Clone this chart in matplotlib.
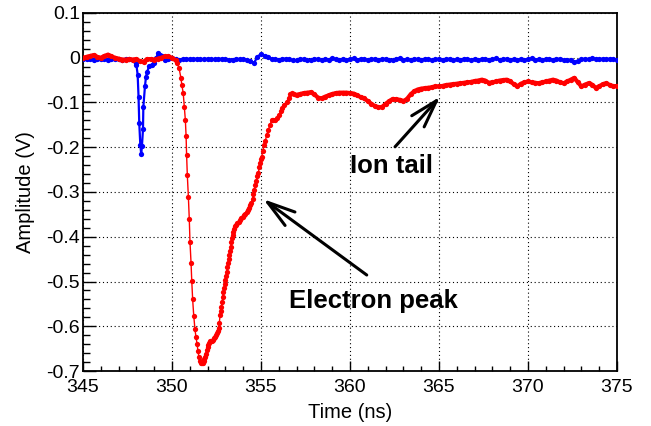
import matplotlib
matplotlib.use("Agg")
import matplotlib.pyplot as plt
import numpy as np
from matplotlib.ticker import MultipleLocator

plt.rcParams["font.family"] = ["Liberation Sans", "DejaVu Sans"]
plt.rcParams["axes.unicode_minus"] = False

# ---- red trace (electron peak + ion tail) ----
red_t_start = np.round(np.arange(345.0, 350.21, 0.2), 2)
red_v_start = [0.000, 0.002, 0.004, 0.006, 0.002, 0.000, 0.004, 0.007, 0.003, 0.000,
               -0.002, -0.004, -0.004, -0.003, -0.004, -0.003, -0.008, -0.009, -0.003, -0.003,
               -0.004, -0.002, 0.000, 0.003, 0.003, 0.000, -0.006]

red_t_peak = [350.30, 350.40, 350.50, 350.55, 350.63, 350.69, 350.75, 350.79, 350.82, 350.86,
              350.92, 350.97, 351.01, 351.07, 351.11, 351.16, 351.22, 351.29, 351.35, 351.41,
              351.46, 351.51, 351.56, 351.61, 351.67, 351.72, 351.77, 351.82, 351.87, 351.91,
              351.96, 352.00, 352.05, 352.09, 352.16, 352.23, 352.30, 352.36, 352.42, 352.47,
              352.53, 352.58, 352.62, 352.66, 352.70, 352.74, 352.78, 352.82, 352.85, 352.89,
              352.92, 352.96, 353.00, 353.04, 353.07, 353.11, 353.15, 353.19, 353.22, 353.26,
              353.30, 353.34, 353.37, 353.41, 353.44, 353.49, 353.54, 353.60, 353.67, 353.75,
              353.82, 353.90, 353.97, 354.05, 354.12, 354.19, 354.25, 354.32, 354.38, 354.45,
              354.53, 354.57, 354.62, 354.68, 354.74, 354.80, 354.85, 354.90, 354.95, 355.00,
              355.04, 355.10, 355.17, 355.25, 355.32, 355.41, 355.50, 355.60, 355.70, 355.80,
              355.90, 356.00, 356.10, 356.20, 356.30, 356.44, 356.55, 356.65, 356.72, 356.86]
red_v_peak = [-0.012, -0.024, -0.045, -0.060, -0.079, -0.109, -0.139, -0.174, -0.217, -0.262,
              -0.311, -0.360, -0.411, -0.459, -0.499, -0.540, -0.576, -0.607, -0.625, -0.640,
              -0.656, -0.668, -0.677, -0.682, -0.683, -0.681, -0.678, -0.674, -0.668, -0.661,
              -0.653, -0.646, -0.641, -0.637, -0.634, -0.632, -0.630, -0.627, -0.624, -0.620,
              -0.615, -0.610, -0.603, -0.592, -0.575, -0.565, -0.556, -0.545, -0.534, -0.524,
              -0.515, -0.506, -0.497, -0.487, -0.478, -0.468, -0.459, -0.450, -0.441, -0.431,
              -0.422, -0.412, -0.403, -0.395, -0.389, -0.382, -0.376, -0.373, -0.370, -0.366,
              -0.362, -0.358, -0.355, -0.352, -0.349, -0.344, -0.340, -0.335, -0.329, -0.324,
              -0.316, -0.305, -0.295, -0.285, -0.275, -0.265, -0.258, -0.245, -0.235, -0.226,
              -0.221, -0.208, -0.195, -0.185, -0.172, -0.162, -0.150, -0.140, -0.139, -0.138,
              -0.135, -0.128, -0.120, -0.113, -0.106, -0.098, -0.090, -0.082, -0.078, -0.081]

red_t_tail = np.round(np.arange(357.0, 375.01, 0.2), 2)
red_v_tail = [-0.083, -0.081, -0.079, -0.078, -0.077, -0.082, -0.089, -0.091, -0.087, -0.084,
              -0.081, -0.079, -0.078, -0.078, -0.078, -0.079, -0.080, -0.084, -0.088, -0.091,
              -0.097, -0.103, -0.108, -0.111, -0.110, -0.103, -0.097, -0.092, -0.093, -0.094,
              -0.097, -0.092, -0.082, -0.075, -0.071, -0.069, -0.068, -0.067, -0.066, -0.064,
              -0.064, -0.063, -0.061, -0.060, -0.059, -0.058, -0.057, -0.056, -0.055, -0.054,
              -0.052, -0.051, -0.049, -0.051, -0.056, -0.055, -0.053, -0.051, -0.050, -0.049,
              -0.053, -0.059, -0.064, -0.058, -0.055, -0.053, -0.055, -0.056, -0.057, -0.055,
              -0.053, -0.051, -0.049, -0.051, -0.055, -0.057, -0.053, -0.049, -0.045, -0.055,
              -0.064, -0.060, -0.057, -0.060, -0.067, -0.064, -0.059, -0.057, -0.061, -0.064,
              -0.063]

# ---- blue trace (trigger/reference pulse) ----
blue_t_start = np.round(np.arange(345.0, 347.81, 0.2), 2)
blue_v_start = [-0.003, -0.002, -0.003, -0.004, -0.003, -0.002, -0.003, -0.004, -0.003, -0.002,
                -0.003, -0.004, -0.003, -0.003, -0.006]

blue_t_dip = [347.95, 348.00, 348.07, 348.12, 348.16, 348.22, 348.27, 348.31, 348.37, 348.39,
              348.48, 348.54, 348.61, 348.71, 348.86, 348.99, 349.10, 349.23, 349.32, 349.42]
blue_v_dip = [-0.012, -0.016, -0.038, -0.087, -0.146, -0.195, -0.215, -0.198, -0.160, -0.110,
              -0.064, -0.042, -0.031, -0.019, -0.016, -0.012, -0.001, 0.010, 0.007, 0.003]

blue_t_flat = np.round(np.arange(349.6, 375.01, 0.2), 2)
blue_v_flat = [-0.004, -0.002, -0.001, -0.003, -0.004, -0.003, -0.002, -0.003, -0.003, -0.002,
               -0.003, -0.003, -0.002, -0.003, -0.003, -0.003, -0.002, -0.003, -0.005, -0.004,
               -0.002, -0.003, -0.003, -0.004, -0.007, -0.012, 0.002, 0.009, 0.005, 0.001,
               -0.002, -0.003, -0.004, -0.002, -0.002, -0.003, -0.006, -0.005, -0.002, -0.003,
               -0.006, -0.004, -0.002, -0.003, -0.005, -0.002, -0.004, -0.001, -0.003, -0.005,
               -0.002, -0.004, -0.003, -0.001, -0.004, -0.002, -0.003, -0.005, -0.003, -0.002,
               -0.004, -0.003, -0.002, -0.004, -0.005, -0.002, -0.001, -0.004, -0.003, -0.005,
               -0.002, -0.003, -0.004, -0.002, -0.003, -0.006, -0.003, -0.002, -0.004, -0.003,
               -0.002, -0.005, -0.003, -0.004, -0.002, -0.003, -0.005, -0.002, -0.004, -0.003,
               -0.002, -0.005, -0.003, -0.001, -0.004, -0.003, -0.002, -0.004, -0.003, -0.005,
               -0.002, -0.004, -0.003, -0.001, -0.004, -0.003, -0.005, -0.002, -0.003, -0.004,
               -0.002, -0.003, -0.005, -0.004, -0.006, -0.009, -0.007, -0.003, -0.002, -0.003,
               -0.001, -0.002, -0.003, -0.002, -0.003, -0.002, -0.003, -0.004]

red_t = np.concatenate([red_t_start, red_t_peak, red_t_tail])
red_v = np.concatenate([red_v_start, red_v_peak, red_v_tail])
blue_t = np.concatenate([blue_t_start, blue_t_dip, blue_t_flat])
blue_v = np.concatenate([blue_v_start, blue_v_dip, blue_v_flat])

y_ticks = [0.1, 0.0, -0.1, -0.2, -0.3, -0.4, -0.5, -0.6, -0.7]
y_labels = ["0.1", "0", "-0.1", "-0.2", "-0.3", "-0.4", "-0.5", "-0.6", "-0.7"]
x_ticks = [345, 350, 355, 360, 365, 370, 375]

fig = plt.figure(figsize=(6.51, 4.26), dpi=100)
ax = fig.add_axes([0.1275, 0.1291, 0.8203, 0.8404])

ax.plot(blue_t, blue_v, color="#0000ff", lw=1.6, marker="o", ms=3.8, mew=0, zorder=3)
ax.plot(red_t, red_v, color="#ff0000", lw=1.0, marker="o", ms=3.8, mew=0, zorder=4)
# flat stretches of the red trace look like a thick band in the original
ax.plot(red_t_tail, red_v_tail, color="#ff0000", lw=3.0, zorder=4)
ax.plot(red_t_start, red_v_start, color="#ff0000", lw=3.0, zorder=4)

ax.set_xlim(345, 375)
ax.set_ylim(-0.7, 0.1)
ax.set_xticks(x_ticks)
ax.set_xticklabels([str(v) for v in x_ticks])
ax.set_yticks(y_ticks)
ax.set_yticklabels(y_labels)
ax.xaxis.set_minor_locator(MultipleLocator(1))
ax.yaxis.set_minor_locator(MultipleLocator(0.02))
ax.tick_params(which="both", direction="in", top=False, right=False,
               labelsize=14, width=1.0, colors="black")
ax.tick_params(axis="x", which="major", length=7.5, pad=6)
ax.tick_params(axis="x", which="minor", length=3.8)
ax.tick_params(axis="y", which="major", length=9.5, pad=2)
ax.tick_params(axis="y", which="minor", length=5)
ax.grid(True, which="major", color="black", lw=0.8, ls=(0, (1, 2.5)))
for s in ax.spines.values():
    s.set_linewidth(1.3)

ax.set_xlabel("Time (ns)", fontsize=14.5, labelpad=5)
ax.set_ylabel("Amplitude (V)", fontsize=14.5, labelpad=8)

arrow = dict(arrowstyle="->,head_length=1.0,head_width=0.3", color="black",
             lw=2.2, mutation_scale=20, shrinkA=0, shrinkB=0)
ax.annotate("", xy=(355.13, -0.316), xytext=(360.94, -0.4855), arrowprops=arrow)
ax.annotate("", xy=(365.06, -0.087), xytext=(362.53, -0.199), arrowprops=arrow)

ax.text(360.0, -0.257, "Ion tail", fontsize=18.5, fontweight="bold", va="baseline", ha="left")
ax.text(356.57, -0.559, "Electron peak", fontsize=18.5, fontweight="bold", va="baseline", ha="left")

fig.savefig("out.png", dpi=100)
